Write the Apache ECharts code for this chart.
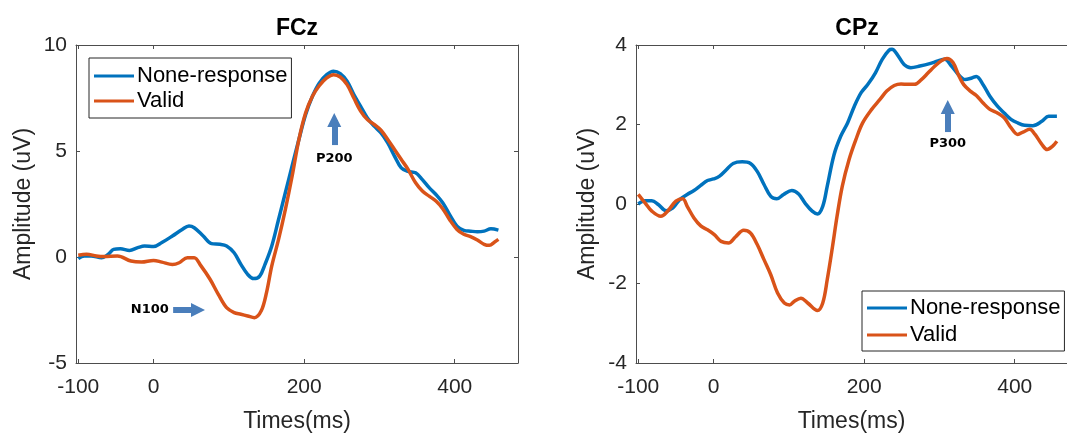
<!DOCTYPE html>
<html>
<head>
<meta charset="utf-8">
<script src="https://cdn.jsdelivr.net/npm/echarts@6/dist/echarts.min.js"></script>
<style>html,body{margin:0;padding:0;background:#fff}#c{width:1067px;height:434px}</style>
</head>
<body>
<div id="c"></div>
<script>
// ---- data ----
const panelTitles = ['FCz', 'CPz'];
const seriesNames = ['None-response', 'Valid'];
const xTickValues = [-100, 0, 200, 400];

// FCz, None-response
const fczNoneT = [-100,-92,-83,-69,-60,-53,-44,-32,-21,-12,0,11,25,38,47,54,66,77,88,97,107,116,125,133,141,148,157,166,175,184,193,202,211,220,230,239,248,257,266,275,284,293,302,311,320,329,338,348,357,366,375,384,393,403,412,421,430,439,448,458];
const fczNoneV = [-0.08,0.05,0.05,-0.03,0.13,0.36,0.39,0.31,0.44,0.52,0.49,0.68,0.99,1.3,1.46,1.38,0.99,0.63,0.6,0.52,0.2,-0.35,-0.82,-1.02,-0.9,-0.35,0.52,1.77,3.03,4.29,5.54,6.72,7.58,8.2,8.6,8.76,8.65,8.29,7.66,7.11,6.56,6.17,5.85,5.38,4.76,4.2,4.04,3.97,3.65,3.27,2.95,2.56,2.01,1.46,1.26,1.22,1.19,1.22,1.33,1.27];
// FCz, Valid
const fczValidT = [-100,-89,-76,-66,-48,-30,-16,0,11,25,34,45,54,63,75,86,97,107,116,125,134,143,150,157,166,175,184,193,202,211,220,230,239,248,257,266,275,284,293,302,311,320,329,338,348,357,366,375,384,393,403,412,421,430,439,446,453,458];
const fczValidV = [0.08,0.13,0.05,0.02,0.05,-0.19,-0.24,-0.16,-0.24,-0.35,-0.27,-0.03,-0.03,-0.42,-1.05,-1.76,-2.39,-2.62,-2.7,-2.78,-2.86,-2.54,-1.68,-0.42,0.83,2.24,3.81,5.54,6.8,7.58,8.08,8.45,8.6,8.49,8.13,7.5,6.88,6.48,6.25,5.98,5.54,5.07,4.6,4.13,3.5,3.11,2.87,2.64,2.28,1.77,1.3,1.07,0.96,0.8,0.6,0.55,0.71,0.83];

// CPz, None-response
const cpzNoneT = [-100,-91,-82,-73,-63,-54,-45,-35,-26,-17,-8,0,8,17,26,38,49,58,67,76,84,93,104,113,122,131,138,145,151,160,169,178,187,196,205,215,224,233,237,244,253,262,274,287,298,307,316,325,334,343,349,358,367,377,386,395,404,413,424,436,445,456];
const cpzNoneV = [0.0,0.08,0.08,-0.02,-0.17,-0.1,0.11,0.24,0.34,0.47,0.59,0.63,0.7,0.86,1.02,1.06,1.02,0.82,0.49,0.19,0.13,0.24,0.34,0.25,0.01,-0.18,-0.25,-0.06,0.45,1.24,1.71,2.04,2.46,2.8,3.01,3.3,3.64,3.87,3.89,3.76,3.51,3.43,3.47,3.53,3.6,3.64,3.47,3.26,3.13,3.17,3.21,3.0,2.71,2.46,2.29,2.13,2.04,1.98,1.97,2.08,2.21,2.21];
// CPz, Valid
const cpzValidT = [-100,-91,-82,-70,-61,-50,-41,-35,-26,-17,-8,1,10,20,29,40,49,58,67,76,85,94,101,107,116,125,138,145,151,158,164,171,180,189,198,210,221,230,240,249,258,267,276,285,294,303,310,318,325,332,341,349,358,367,377,386,395,404,411,420,427,436,443,450,456];
const cpzValidV = [0.24,0.03,-0.18,-0.31,-0.18,0.07,0.13,-0.06,-0.35,-0.55,-0.65,-0.77,-0.94,-0.98,-0.83,-0.66,-0.73,-1.02,-1.4,-1.78,-2.24,-2.49,-2.54,-2.45,-2.37,-2.49,-2.68,-2.49,-1.9,-1.07,-0.31,0.45,1.12,1.62,2.04,2.38,2.63,2.84,2.98,3.02,3.01,3.01,3.13,3.3,3.47,3.61,3.66,3.56,3.26,3.01,2.84,2.73,2.54,2.38,2.29,2.17,1.92,1.75,1.81,1.88,1.75,1.5,1.37,1.45,1.58];

// annotations (data coordinates): [label, labelX, labelY, arrowX1, arrowY1, arrowX2, arrowY2]
const fczAnnotations = [
  ['N100', -5, -2.5, 26, -2.5, 59, -2.5],
  ['P200', 240, 4.62, 240, 5.28, 240, 6.46]
];
const cpzAnnotations = [
  ['P300', 311, 1.53, 311, 1.81, 311, 2.44]
];

// ---- chart ----
const BLUE = '#0072BD', ORANGE = '#D95319', ARROW = '#4A7EBB';
const AX = '#262626', BOX = '#4d4d4d';
const FONT = 'Liberation Sans, Arial, sans-serif';

const pairs = (t, v) => t.map((x, i) => [x, v[i]]);

// right panel is cut off by the picture edge, so its visible x-range ends earlier
const grids = [
  { left: 76, top: 45, width: 442, height: 318, containLabel: false, outerBoundsMode: 'none' },
  { left: 636, top: 45, width: 431, height: 318, containLabel: false, outerBoundsMode: 'none' }
];
const xMax = [484, 469.4];
const yRanges = [[-5, 10, 5], [-4, 4, 2]];
const yNameGaps = [41, 37];
const showRightBox = [true, false];

const xAxes = [], yAxes = [];
grids.forEach((g, i) => {
  xAxes.push({
    type: 'value', gridIndex: i, min: -103, max: xMax[i], position: 'bottom',
    name: 'Times(ms)', nameLocation: 'middle', nameGap: 47,
    nameTextStyle: { fontSize: 23, color: AX, fontFamily: FONT },
    axisLine: { show: true, onZero: false, lineStyle: { color: BOX, width: 1 } },
    axisTick: { show: true, inside: true, length: 4, customValues: xTickValues, lineStyle: { color: BOX } },
    axisLabel: { customValues: xTickValues, fontSize: 21, color: AX, fontFamily: FONT, margin: 14 },
    splitLine: { show: false }
  });
  xAxes.push({
    type: 'value', gridIndex: i, min: -103, max: xMax[i], position: 'top',
    axisLine: { show: true, onZero: false, lineStyle: { color: BOX, width: 1 } },
    axisTick: { show: true, inside: true, length: 4, customValues: xTickValues, lineStyle: { color: BOX } },
    axisLabel: { show: false }, splitLine: { show: false }
  });
  const [mn, mx, iv] = yRanges[i];
  yAxes.push({
    type: 'value', gridIndex: i, min: mn, max: mx, interval: iv, position: 'left',
    name: 'Amplitude (uV)', nameLocation: 'middle', nameGap: yNameGaps[i], nameRotate: 90,
    nameTextStyle: { fontSize: 23, color: AX, fontFamily: FONT },
    axisLine: { show: true, onZero: false, lineStyle: { color: BOX, width: 1 } },
    axisTick: { show: true, inside: true, length: 4, lineStyle: { color: BOX } },
    axisLabel: { fontSize: 21, color: AX, fontFamily: FONT, margin: 9 },
    splitLine: { show: false }
  });
  yAxes.push({
    type: 'value', gridIndex: i, min: mn, max: mx, interval: iv, position: 'right',
    show: showRightBox[i],
    axisLine: { show: true, onZero: false, lineStyle: { color: BOX, width: 1 } },
    axisTick: { show: true, inside: true, length: 4, lineStyle: { color: BOX } },
    axisLabel: { show: false }, splitLine: { show: false }
  });
});

function annotSeries(list, gi) {
  return {
    type: 'line', name: 'annot' + gi, data: [], xAxisIndex: gi * 2, yAxisIndex: gi * 2,
    silent: true, z: 5,
    markLine: {
      silent: true, animation: false,
      symbol: ['none', 'triangle'], symbolSize: [14, 14],
      lineStyle: { color: ARROW, width: 6, type: 'solid' },
      label: { show: false },
      data: list.map(a => [{ coord: [a[3], a[4]] }, { coord: [a[5], a[6]] }])
    },
    markPoint: {
      silent: true, animation: false,
      symbol: 'circle', symbolSize: 1, itemStyle: { color: 'rgba(0,0,0,0)' },
      label: { show: true, position: 'inside', color: '#000', fontSize: 13, fontWeight: 'bold', fontFamily: 'DejaVu Sans, sans-serif' },
      data: list.map(a => ({ coord: [a[1], a[2]], value: a[0], label: { formatter: a[0] } }))
    }
  };
}

const lineBase = { type: 'line', showSymbol: false, smooth: 0.35, animation: false };
const series = [
  Object.assign({}, lineBase, { name: seriesNames[0], data: pairs(fczNoneT, fczNoneV), xAxisIndex: 0, yAxisIndex: 0, lineStyle: { color: BLUE, width: 3.5 }, itemStyle: { color: BLUE } }),
  Object.assign({}, lineBase, { name: seriesNames[1], data: pairs(fczValidT, fczValidV), xAxisIndex: 0, yAxisIndex: 0, lineStyle: { color: ORANGE, width: 3.5 }, itemStyle: { color: ORANGE } }),
  Object.assign({}, lineBase, { name: seriesNames[0], data: pairs(cpzNoneT, cpzNoneV), xAxisIndex: 2, yAxisIndex: 2, lineStyle: { color: BLUE, width: 3.5 }, itemStyle: { color: BLUE } }),
  Object.assign({}, lineBase, { name: seriesNames[1], data: pairs(cpzValidT, cpzValidV), xAxisIndex: 2, yAxisIndex: 2, lineStyle: { color: ORANGE, width: 3.5 }, itemStyle: { color: ORANGE } }),
  annotSeries(fczAnnotations, 0),
  annotSeries(cpzAnnotations, 1)
];

const legendBase = {
  orient: 'vertical', data: seriesNames, icon: 'rect', itemWidth: 40, itemHeight: 3, itemGap: 3,
  borderColor: '#262626', borderWidth: 1, backgroundColor: '#fff', borderRadius: 0,
  textStyle: { fontSize: 22, color: '#000', fontFamily: FONT, padding: [0, 0, 0, -2] },
  selectedMode: false
};

const option = {
  backgroundColor: '#fff',
  animation: false,
  title: [
    { text: panelTitles[0], left: 297, top: 17, textAlign: 'center', padding: 0, textStyle: { fontSize: 23, fontWeight: 'bold', color: '#000', fontFamily: FONT } },
    { text: panelTitles[1], left: 857, top: 17, textAlign: 'center', padding: 0, textStyle: { fontSize: 23, fontWeight: 'bold', color: '#000', fontFamily: FONT } }
  ],
  legend: [
    Object.assign({}, legendBase, { left: 89, top: 58, padding: [7, 4, 6, 5] }),
    Object.assign({}, legendBase, { left: 862, top: 291, padding: [6, 4, 5, 5], itemGap: 5 })
  ],
  grid: grids,
  xAxis: xAxes,
  yAxis: yAxes,
  series: series
};

const chart = echarts.init(document.getElementById('c'), null, { renderer: 'canvas' });
chart.setOption(option);
</script>
</body>
</html>
